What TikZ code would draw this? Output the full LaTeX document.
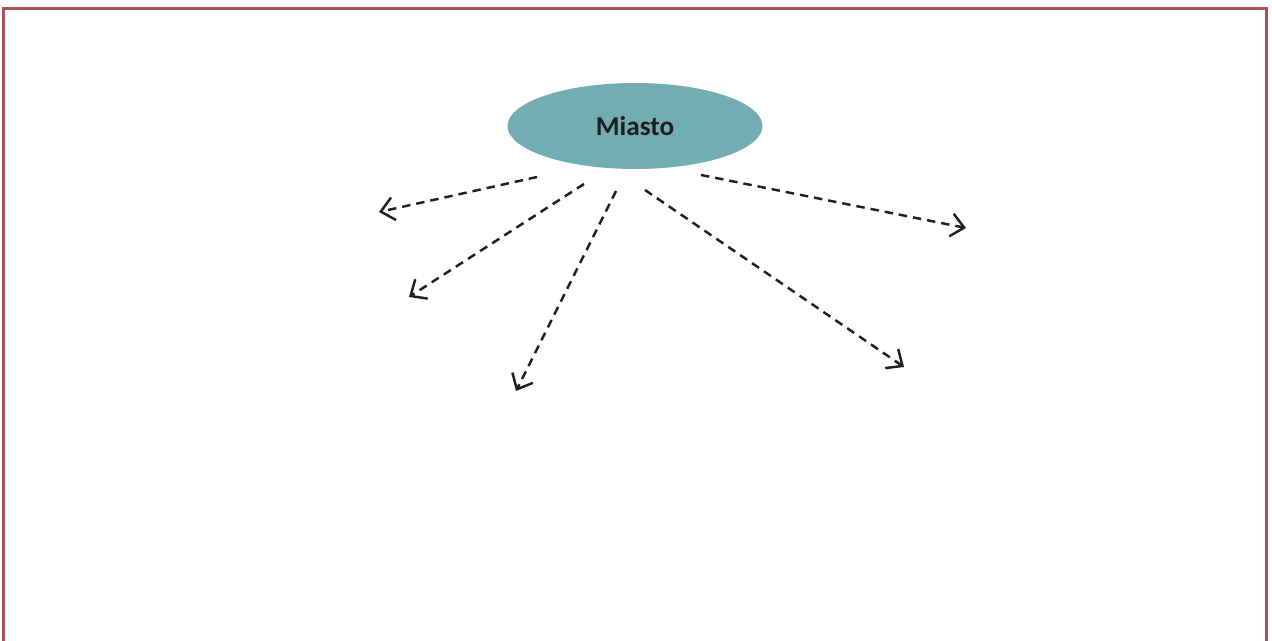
\documentclass[tikz,border=0pt]{standalone}
\usepackage{fontspec}
\setmainfont{Carlito}
\usetikzlibrary{shapes.geometric,arrows.meta}
\definecolor{frame}{HTML}{A9545C}
\definecolor{teal}{HTML}{72AEB1}
\definecolor{ink}{HTML}{1F1F1F}
\begin{document}
\begin{tikzpicture}[x=0.02cm,y=-0.02cm,
  city/.style={ellipse,fill=teal,minimum width=5.1cm,minimum height=1.72cm,
    inner sep=0pt,text=ink,font=\fontsize{15.5}{18}\selectfont\bfseries},
  link/.style={draw=ink,line width=1.4pt,dash pattern=on 4.8pt off 3.4pt,
    -{Straight Barb[length=2.6mm,width=4.6mm,line width=1.4pt]}}
]
    \useasboundingbox (0,0) rectangle (1272,641);
    \draw[frame,line width=1.7pt] (3.5,641) -- (3.5,9) -- (1266.5,9) -- (1266.5,641);
    \node[city] (m) at (635,126) {Miasto};
    % arrow ends
    \coordinate (s1) at (537,177);  \coordinate (e1) at (379,212);
    \coordinate (s2) at (584,184);  \coordinate (e2) at (409,297);
    \coordinate (s3) at (616,191);  \coordinate (e3) at (516,391);
    \coordinate (s4) at (645,190);  \coordinate (e4) at (904,367);
    \coordinate (s5) at (701,175);  \coordinate (e5) at (966,228);
    \draw[link] (s1) -- (e1);
    \draw[link] (s2) -- (e2);
    \draw[link] (s3) -- (e3);
    \draw[link] (s4) -- (e4);
    \draw[link] (s5) -- (e5);
\end{tikzpicture}
\end{document}
